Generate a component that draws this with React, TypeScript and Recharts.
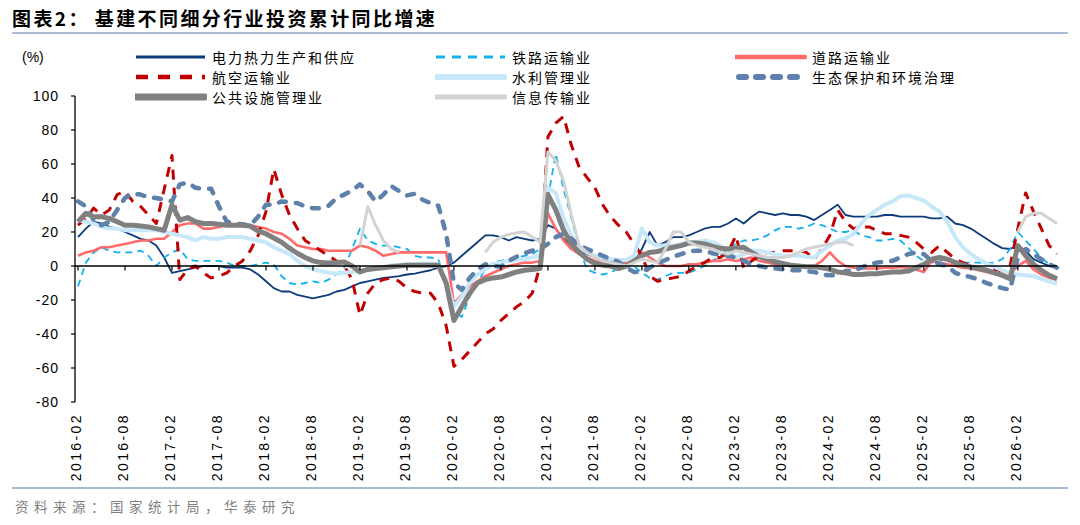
import React from 'react';
import { LineChart, Line, XAxis, YAxis, ReferenceLine } from 'recharts';

// ---------- categories ----------
const startYear = 2016;
const startMonth = 2;
const monthCount = 126; // 2016-02 .. 2026-07
const months: string[] = [];
for (let i = 0; i < monthCount; i++) {
  const t = startMonth - 1 + i;
  const y = startYear + Math.floor(t / 12);
  const m = (t % 12) + 1;
  months.push(`${y}-${m < 10 ? '0' + m : m}`);
}

const tickLabels = [
  '2016-02', '2016-08', '2017-02', '2017-08', '2018-02', '2018-08', '2019-02',
  '2019-08', '2020-02', '2020-08', '2021-02', '2021-08', '2022-02', '2022-08',
  '2023-02', '2023-08', '2024-02', '2024-08', '2025-02', '2025-08', '2026-02',
];
const yTicks = [-80, -60, -40, -20, 0, 20, 40, 60, 80, 100];

// ---------- series (each row: Feb .. next Jan) ----------
const elec = [
  17, 22, 26, 25, 23, 22, 20, 18, 16, 15, 12, 5,
  -4, -3, -2, -1, 0, 0, 0, -1, -1, -1, -2, -5,
  -9, -13, -15, -15, -17, -18, -19, -18, -17, -15, -14, -12,
  -10, -9, -8, -7, -6.5, -6, -5, -4.5, -3.5, -2.5, -1, 0,
  2, 6, 10, 14, 18, 18, 17, 15, 17, 16, 15, 16,
  24, 22, 16, 12, 9, 7, 5, 4, 3, 2.5, 2, 2,
  10, 20, 12, 14, 17, 17, 18, 20, 22, 23, 23, 25,
  28, 25, 29, 32, 31, 30, 31, 30, 30, 29, 27, 30,
  33, 36, 30, 29, 29, 29, 29, 30, 30, 29, 29, 29,
  29, 28, 28, 29, 25, 24, 22, 19, 16, 13, 10.5, 10,
  12, 9, 4, 2, 0, -1,
];
const rail = [
  -12, 2, 8, 11, 9, 8, 8, 8, 9, 6, 0, 5,
  8, 10, 4, 3, 3, 3, 3, 2, 0, 0, 0, 1,
  2, 1, -6, -10, -11, -10, -9, -10, -8, -5, -1, 10,
  22, 15, 13, 12, 12, 11, 10, 6, 5, 5, 4, -10,
  -27, -30, -18, -10, -2, 2, 3, 4, 5, 6, 7, 10,
  40, 66, 45, 28, 10, -2, -4, -5, -4, -1, -1, 0,
  -4, -7, -8, -6, -4, -4, -4, -2, 0, 3, 6, 10,
  13, 15, 15, 16, 18, 21, 23, 23, 22, 23, 25, 24,
  22, 20, 20, 21, 18, 17, 15, 15, 16, 15, 11, 6,
  3, 2, 3, 4, 3, 2, 2, 2, 1.5, 2, 4, 10,
  20, 15, 10, 5, 1, -1,
];
const road = [
  6, 8, 9, 11, 11, 12, 13, 14, 15, 15, 16, 16,
  20, 24, 25, 25, 22, 22, 23, 24, 24, 25, 24, 23,
  22, 20, 19, 16, 12, 11, 10, 10, 9, 9, 9, 9,
  12, 11, 9, 6, 7, 8, 8, 8, 8, 8, 8, 8,
  -22, -17, -12, -9, -6, -4, -2, 0, 1, 2, 2, 3,
  31, 22, 15, 10, 7, 5, 3, 2, 2, 2, 2, 3,
  8, 5, 2, 0, 0, 0, 1, 1, 2, 3, 3, 4,
  3, 4, 5, 3, 2, 1, 1, 0, 0, 0, 0, 3,
  8, 3, 0, -1, -1.5, -1.5, -1.5, -1, -1, -0.5, -1, -2,
  -3.5, 3, 2, 1, 0, -1, -1.5, -2.5, -3.5, -4.5, -5.5, -4.5,
  0, 3, -2, -5, -7, -8,
];
const avia = [
  24, 28, 34, 30, 33, 42, 44, 38, 35, 30, 25, 45,
  65, -8, -2, 0, -4, -7, -6, -4, 0, 3, 9, 18,
  32, 57, 42, 30, 22, 15, 12, 9, 6, 3, 0, -8,
  -29, -16, -10, -8, -7, -9, -13, -15, -16, -16, -22, -35,
  -59, -55, -50, -45, -40, -37, -32, -28, -24, -21, -16, 0,
  76, 84, 88, 71, 58, 52, 46, 36, 29, 24, 20, 13,
  6, -6, -9, -8, -7, -6, -3, 0, 2, 5, 5, 8,
  18, -1, 3, 6, 8, 8, 9, 9, 9, 8, 4, 10,
  18, 33, 26, 22, 23, 23, 21, 19, 19, 18, 17, 14,
  10, 8, 12, 8, 4, 2, 0, -1, -2, -2, -3, 0,
  22, 43, 32, 22, 12, 7,
];
const water = [
  27, 26, 25, 23, 22, 22, 21, 21, 21, 21, 21, 20,
  19, 18, 17, 15, 17, 16, 16, 17, 17, 17, 16, 15,
  14, 11, 9, 7, 3, 0, -2, -3, -4, -4.5, -4, -3.5,
  -3, -2, -1.5, -0.5, 0.5, 0.5, 1, 1, 1.5, 1.5, 1, -8,
  -24, -18, -10, -5, -2, 1, 2, 3, 3.5, 4, 5, 6,
  46, 43, 28, 18, 11, 8, 6, 5, 4, 3.5, 3.5, 6,
  22, 14, 12, 12, 12, 13, 14, 14, 15, 14, 12, 9,
  5, 7, 9, 9, 8, 7, 6, 6, 6, 5.5, 5, 9,
  12, 15, 16, 19, 25, 30, 33, 36, 38, 41, 41.5, 40,
  38.5, 35, 32, 26, 17, 11, 7, 4, 1.5, -0.5, -2.5, -4.5,
  -5, -5.5, -6, -7.5, -9, -10.5,
];
const eco = [
  38, 35, 27, 24, 26, 33, 40, 42.5, 42, 40.5, 40, 39,
  38, 48, 49, 46, 45.5, 45.5, 35, 26, 25, 24.5, 24, 29,
  36, 36, 38, 37.5, 37, 35, 34, 34, 35.5, 40, 42, 44.5,
  48, 44, 38, 42, 47, 44, 41.5, 42.5, 39, 37, 35.5, 19,
  -10, -14, -7, -2, 1, 0, -0.5, 3, 5.5, 7.5, 9, 10,
  13, 17, 19, 16, 12, 10, 8, 6, 4, 2.5, -1, -3.5,
  -3.5, -1, 1.5, 3.5, 5.5, 7, 8.5, 9, 9, 7.5, 6.5, 6,
  5, 3, 1, 0, -1, -1.5, -2, -2.5, -2.5, -3, -3.5, -5,
  -5.5, -5.5, -3, -3, -1, 1, 2, 2.5, 3, 5, 7, 8,
  7, 3, 1, 0, -4, -5.5, -6.5, -8, -10, -11.5, -13, -14,
  5, 10, 7, 4, 1, -1,
];
const pub = [
  26, 31, 29, 29, 28, 26, 24, 24, 23.5, 23, 22, 21,
  36, 27, 28.5, 26, 25, 25, 24.5, 24, 24, 24, 23.5, 20.5,
  19, 16.5, 14, 10.5, 7.5, 5, 3, 2, 1.8, 2, 2.4, 0,
  -3.5, -2, -1.5, -1, -0.5, 0, 0.5, 0.5, 0.5, 0.5, 0.5, -10,
  -32, -24, -16, -10, -8, -7, -6.5, -5, -3.5, -2.5, -2, -1.5,
  42, 33, 21, 13, 8, 4, 1.5, 0.5, 0, -1.5, 0, 3,
  6, 8, 8.5, 10, 11, 12, 13.5, 13.5, 13, 11.5, 10.5, 10,
  10.5, 11, 8, 5.5, 4, 2.5, 1.5, 0.5, 0, -0.5, -0.5, -1,
  -2, -3.5, -4, -5, -5, -4.5, -4.5, -4, -3.5, -3.5, -3, -1,
  1, 4, 5, 4, 2, 0.5, -0.5, -1.5, -2.5, -4, -5.5, -7.5,
  12, 6, 1, -2.5, -5.5, -7.5,
];
const info = [
  null, null, null, null, null, null, null, null, null, null, null, null,
  null, null, null, null, null, null, null, null, null, null, null, null,
  null, null, null, null, null, null, null, null, null, null, null, null,
  12, 35, 24, 15, 10, 8, null, null, null, null, null, null,
  null, null, null, null, 8, 14, 17, 18.5, 19.5, 20, 17, 14,
  67, 62, 50, 30, 12, 8, 5, 3, 2, 1, 0, 2,
  4, 3, 2, 10, 20, 20, 14, 12, 11, 10, 8, 7,
  9, 8, 7, 6, 5, 5, 5, 6, 8, 10, 11, 12,
  13, 14, 14, 12, null, null, null, null, null, null, null, null,
  null, null, null, null, null, null, null, null, null, null, null, null,
  20, 29, 31, 31, 28, 25,
];

const seriesNames = {
  elec: '电力热力生产和供应',
  rail: '铁路运输业',
  road: '道路运输业',
  avia: '航空运输业',
  water: '水利管理业',
  eco: '生态保护和环境治理',
  pub: '公共设施管理业',
  info: '信息传输业',
};

// ---------- styles ----------
const CJK = "'Noto Sans CJK SC', 'Noto Sans', sans-serif";
const LAT = "'Liberation Sans', Arial, sans-serif";

type Style = { key: string; color: string; width: number; dash?: string; cap?: 'round' | 'butt'; lw: number; ldash?: string };
const styles: Style[] = [
  { key: 'elec', color: '#0e3b7c', width: 1.8, lw: 3 },
  { key: 'rail', color: '#14b1ec', width: 1.8, dash: '7 5', lw: 3, ldash: '9 7' },
  { key: 'road', color: '#ff6b6b', width: 2.6, lw: 4.5 },
  { key: 'avia', color: '#c00000', width: 3, dash: '10 8', lw: 4.5, ldash: '12 10' },
  { key: 'water', color: '#c6e8f8', width: 4, lw: 6 },
  { key: 'eco', color: '#5e81ac', width: 4.5, dash: '7 10', cap: 'round', lw: 6, ldash: '7 10' },
  { key: 'pub', color: '#808080', width: 5, lw: 7 },
  { key: 'info', color: '#d3d3d3', width: 3, lw: 5 },
];
const legendCols = [135, 435, 735];
const legendRows = [57, 77, 97];

const XTick = (props: any) => {
  const { x, y, payload } = props;
  const tx = x - 2;
  return (
    <text
      x={tx}
      y={y}
      dy="0.36em"
      transform={`rotate(-90 ${tx} ${y})`}
      textAnchor="end"
      fontSize={14}
      fontFamily={LAT}
      letterSpacing={2.4}
      fill="#000"
    >
      {payload.value}
    </text>
  );
};

const YTick = (props: any) => {
  const { x, y, payload } = props;
  return (
    <text x={x} y={y} dy="0.36em" textAnchor="end" fontSize={14} fontFamily={LAT} letterSpacing={1} fill="#000">
      {payload.value}
    </text>
  );
};

export default function App() {
  const data = months.map((m, i) => ({
    month: m,
    elec: elec[i],
    rail: rail[i],
    road: road[i],
    avia: avia[i],
    water: water[i],
    eco: eco[i],
    pub: pub[i],
    info: info[i],
  }));

  return (
    <div style={{ position: 'absolute', left: 0, top: 0, width: 1080, height: 525, background: '#fff', overflow: 'hidden' }}>
      <div style={{ position: 'absolute', left: 12, top: 8, lineHeight: '20px', fontSize: 19, fontWeight: 700, fontFamily: CJK, letterSpacing: 2.4, color: '#000', whiteSpace: 'nowrap' }}>
        图表2：<span style={{ marginLeft: 5 }}>基建不同细分行业投资累计同比增速</span>
      </div>
      <div style={{ position: 'absolute', left: 12, top: 32, width: 1056, height: 2, background: '#a8bad2' }} />
      <div style={{ position: 'absolute', left: 22, top: 47, lineHeight: '20px', fontSize: 14, fontFamily: LAT, color: '#000' }}>(%)</div>

      {styles.map((s, i) => {
        const col = i % 3;
        const row = Math.floor(i / 3);
        const left = legendCols[col];
        const cy = legendRows[row];
        return (
          <div key={s.key} style={{ position: 'absolute', left, top: cy - 10, height: 20, display: 'flex', alignItems: 'center', whiteSpace: 'nowrap' }}>
            <svg width={72} height={12} style={{ display: 'block' }}>
              <line
                x1={s.cap === 'round' ? 4 : 1}
                y1={6}
                x2={70}
                y2={6}
                stroke={s.color}
                strokeWidth={s.lw}
                strokeDasharray={s.ldash}
                strokeLinecap={s.cap === 'round' ? 'round' : s.key === 'pub' || s.key === 'water' || s.key === 'info' || s.key === 'road' ? 'round' : 'butt'}
              />
            </svg>
            <span style={{ marginLeft: 5, fontSize: 14, fontFamily: CJK, letterSpacing: 2, color: '#000', lineHeight: '20px' }}>
              {(seriesNames as any)[s.key]}
            </span>
          </div>
        );
      })}

      <div style={{ position: 'absolute', left: 0, top: 0 }}>
        <LineChart width={1080} height={525} data={data} margin={{ top: 96, right: 23, bottom: 0, left: 0 }}>
          <XAxis
            dataKey="month"
            ticks={tickLabels}
            interval={0}
            axisLine={false}
            tickLine={false}
            tickSize={0}
            tickMargin={11}
            height={123}
            padding={{ left: 3, right: 0 }}
            tick={<XTick />}
          />
          <YAxis
            type="number"
            domain={[-80, 100]}
            ticks={yTicks}
            interval={0}
            width={75}
            axisLine={{ stroke: '#000', strokeWidth: 1.3 }}
            tickLine={{ stroke: '#000', strokeWidth: 1.2 }}
            tickSize={4}
            tickMargin={12}
            tick={<YTick />}
          />
          {styles.map((s) => (
            <Line
              key={s.key}
              type="linear"
              dataKey={s.key}
              name={(seriesNames as any)[s.key]}
              stroke={s.color}
              strokeWidth={s.width}
              strokeDasharray={s.dash}
              strokeLinecap={s.cap === 'round' ? 'round' : 'butt'}
              strokeLinejoin="round"
              dot={false}
              activeDot={false}
              connectNulls={false}
              isAnimationActive={false}
            />
          ))}
          <ReferenceLine y={0} stroke="#000" strokeWidth={1.3} />
          {tickLabels.map((t) => (
            <ReferenceLine
              key={'tk' + t}
              segment={[{ x: t, y: 0 }, { x: t, y: -2.6 }]}
              stroke="#000"
              strokeWidth={1.2}
            />
          ))}
        </LineChart>
      </div>

      <div style={{ position: 'absolute', left: 12, top: 487, width: 1056, height: 2, background: '#a8bad2' }} />
      <div style={{ position: 'absolute', left: 15, top: 496, lineHeight: '20px', fontSize: 13.5, fontFamily: CJK, letterSpacing: 5.5, color: '#7f7f7f', whiteSpace: 'nowrap' }}>
        资料来源：国家统计局，华泰研究
      </div>
    </div>
  );
}
